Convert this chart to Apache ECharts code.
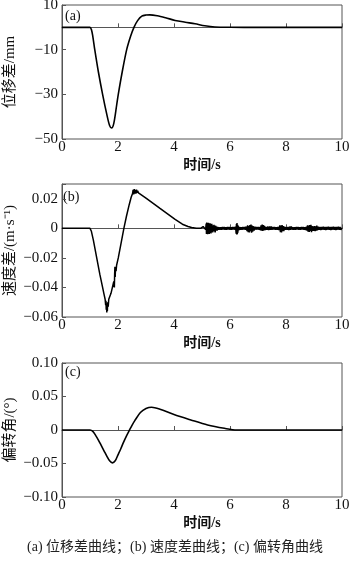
<!DOCTYPE html>
<html><head><meta charset="utf-8">
<script src="https://cdn.jsdelivr.net/npm/echarts@6/dist/echarts.min.js"></script>
<style>html,body{margin:0;padding:0;background:#fff}#c{width:350px;height:563px}</style>
</head><body><div id="c"></div>
<script>
// ---- data ----
const xTicks = [0, 2, 4, 6, 8, 10];
// (a) displacement difference, mm
const dispT = [0, 1.0, 1.05, 1.1, 1.17, 1.3, 1.45, 1.6, 1.7, 1.77, 1.85, 1.95, 2.01, 2.15, 2.31, 2.45, 2.57, 2.7, 2.85, 3.0, 3.14, 3.4, 3.7, 4.04, 4.4, 4.75, 5.1, 5.46, 6.0, 7.0, 10];
const dispV = [0, 0, -1, -4, -10, -20, -30, -39, -44, -45.1, -43, -35, -30, -20, -10, -4, 0, 3, 5, 5.5, 5.6, 5.2, 4.3, 3.1, 2.3, 1.6, 0.7, 0.15, 0.02, 0, 0];
// (b) velocity difference, m/s (main trend)
const velT = [0, 1.0, 1.05, 1.12, 1.24, 1.35, 1.45, 1.5, 1.54, 1.56, 1.57, 1.58, 1.59, 1.60, 1.61, 1.62, 1.63, 1.65, 1.67, 1.70, 1.75, 1.80, 1.85, 1.87, 1.88, 1.89, 1.90, 1.91, 1.93, 1.95, 2.01, 2.1, 2.21, 2.3, 2.4, 2.47, 2.52, 2.54, 2.56, 2.58, 2.60, 2.62, 2.64, 2.66, 2.68, 2.70, 2.73, 2.8, 3.0, 3.5, 4.04, 4.3, 4.5, 4.63, 4.8, 4.95];
const velV = [0, 0, -0.002, -0.008, -0.02, -0.031, -0.04, -0.0445, -0.048, -0.052, -0.049, -0.055, -0.051, -0.057, -0.052, -0.056, -0.050, -0.053, -0.048, -0.048, -0.044, -0.040, -0.036, -0.040, -0.031, -0.026, -0.033, -0.027, -0.029, -0.025, -0.020, -0.011, 0, 0.008, 0.016, 0.021, 0.0235, 0.026, 0.023, 0.0265, 0.0235, 0.026, 0.0235, 0.0262, 0.024, 0.0255, 0.024, 0.0235, 0.0205, 0.0135, 0.006, 0.0028, 0.0012, 0.0005, 0.0001, 0];
// (b) velocity difference, vibration after 5 s
const velNoise = [
[5.00,0],[5.04,0.0012],[5.07,0.0018],[5.10,0.0002],[5.13,-0.0008],[5.15,0.0032],[5.16,-0.0038],[5.17,0.0040],[5.18,-0.0032],[5.19,0.0036],
[5.20,-0.0040],[5.21,0.0030],[5.22,-0.0036],[5.23,0.0038],[5.24,-0.0028],[5.25,0.0034],[5.26,-0.0039],[5.27,0.0024],[5.28,-0.0032],[5.29,0.0035],
[5.30,-0.0030],[5.31,0.0028],[5.32,-0.0034],[5.33,0.0022],[5.34,-0.0026],[5.35,0.0030],[5.36,-0.0022],[5.37,0.0018],[5.38,-0.0028],[5.40,0.0020],
[5.41,-0.0018],[5.43,0.0024],[5.44,-0.0022],[5.46,0.0016],[5.47,-0.0028],[5.49,0.0018],[5.50,-0.0015],[5.52,0.0012],[5.54,-0.0016],[5.56,0.0010],
[5.58,-0.0009],[5.61,0.0008],[5.64,-0.0009],[5.67,0.0008],[5.70,-0.0010],[5.73,0.0009],[5.76,-0.0008],[5.79,0.0010],[5.82,-0.0009],[5.85,0.0008],
[5.88,-0.0010],[5.91,0.0009],[5.94,-0.0008],[5.97,0.0010],[6.00,-0.0009],[6.03,0.0008],[6.06,-0.0010],[6.09,0.0009],[6.12,-0.0008],[6.15,0.0010],
[6.18,-0.0009],[6.20,0.0012],[6.22,-0.0036],[6.23,0.0030],[6.24,-0.0042],[6.25,0.0036],[6.26,-0.0040],[6.27,0.0024],[6.28,-0.0030],[6.29,0.0016],
[6.31,-0.0014],[6.34,0.0009],[6.37,-0.0010],[6.40,0.0008],[6.43,-0.0009],[6.46,0.0010],[6.49,-0.0008],[6.52,0.0009],[6.55,-0.0010],[6.58,0.0012],
[6.61,-0.0018],[6.63,0.0020],[6.65,-0.0026],[6.67,0.0016],[6.69,-0.0028],[6.71,0.0022],[6.73,-0.0020],[6.75,0.0026],[6.77,-0.0030],[6.79,0.0018],
[6.81,-0.0022],[6.83,0.0014],[6.86,-0.0016],[6.89,0.0011],[6.92,-0.0009],[6.95,0.0010],[6.98,-0.0008],[7.01,0.0009],[7.04,-0.0010],[7.07,0.0009],
[7.09,-0.0013],[7.11,0.0020],[7.13,-0.0016],[7.15,0.0026],[7.17,-0.0018],[7.19,0.0022],[7.21,-0.0014],[7.23,0.0016],[7.26,-0.0011],[7.29,0.0009],
[7.32,-0.0010],[7.35,0.0012],[7.38,-0.0011],[7.41,0.0013],[7.44,-0.0010],[7.47,0.0012],[7.50,-0.0010],[7.53,0.0009],[7.56,-0.0008],[7.59,0.0010],
[7.62,-0.0009],[7.65,0.0008],[7.68,-0.0010],[7.71,0.0009],[7.74,-0.0011],[7.76,-0.0016],[7.78,0.0020],[7.80,-0.0026],[7.82,0.0018],[7.84,-0.0028],
[7.86,0.0022],[7.88,-0.0020],[7.90,0.0016],[7.92,-0.0018],[7.95,0.0011],[7.98,-0.0009],[8.01,0.0008],[8.04,-0.0010],[8.07,0.0009],[8.10,-0.0011],
[8.13,0.0012],[8.16,-0.0010],[8.19,0.0013],[8.22,-0.0009],[8.25,0.0008],[8.28,-0.0009],[8.31,0.0008],[8.34,-0.0010],[8.37,0.0009],[8.40,-0.0008],
[8.43,0.0010],[8.46,-0.0009],[8.49,0.0008],[8.52,-0.0010],[8.55,0.0009],[8.58,-0.0008],[8.61,0.0010],[8.64,-0.0009],[8.67,0.0008],[8.70,-0.0011],
[8.73,0.0012],[8.75,-0.0016],[8.77,0.0020],[8.79,-0.0022],[8.81,0.0018],[8.83,-0.0024],[8.85,0.0022],[8.87,-0.0018],[8.89,0.0024],[8.91,-0.0026],
[8.93,0.0016],[8.95,-0.0018],[8.97,0.0014],[9.00,-0.0018],[9.02,0.0016],[9.04,-0.0020],[9.06,0.0014],[9.08,-0.0016],[9.10,0.0018],[9.12,-0.0013],
[9.15,0.0011],[9.18,-0.0010],[9.21,0.0009],[9.24,-0.0011],[9.27,0.0010],[9.30,-0.0009],[9.33,0.0011],[9.36,-0.0010],[9.39,0.0009],[9.42,-0.0011],
[9.45,0.0010],[9.48,-0.0009],[9.51,0.0011],[9.54,-0.0010],[9.57,0.0009],[9.60,-0.0011],[9.63,0.0010],[9.66,-0.0009],[9.69,0.0011],[9.72,-0.0010],
[9.75,0.0009],[9.78,-0.0011],[9.81,0.0010],[9.84,-0.0009],[9.87,0.0011],[9.90,-0.0010],[9.93,0.0009],[9.96,-0.0010],[10.00,0.0004]
];
// (c) deflection angle, degrees
const angT = [0, 1.0, 1.1, 1.2, 1.3, 1.4, 1.5, 1.6, 1.7, 1.8, 1.9, 2.0, 2.1, 2.2, 2.3, 2.4, 2.5, 2.6, 2.8, 3.0, 3.2, 3.5, 4.0, 4.6, 5.2, 5.8, 6.24, 7, 10];
const angV = [0, 0, -0.002, -0.008, -0.015, -0.023, -0.031, -0.039, -0.046, -0.049, -0.046, -0.037, -0.028, -0.018, -0.009, -0.001, 0.007, 0.014, 0.026, 0.032, 0.034, 0.031, 0.023, 0.015, 0.0075, 0.0025, 0, 0, 0];

const yTicksA = [10, -10, -30, -50];
const yTicksB = [0.02, 0, -0.02, -0.04, -0.06];
const yTicksC = [0.10, 0.05, 0, -0.05, -0.10];
const panelLabels = ['(a)', '(b)', '(c)'];
const yNames = ['位移差/mm', '速度差/(m·s⁻¹)', '偏转角/(°)'];
const xName = '时间/s';
const caption = '(a) 位移差曲线；(b) 速度差曲线；(c) 偏转角曲线';

// ---- chart ----
const SERIF = '"Liberation Serif","Noto Sans CJK SC",serif';
const minus = s => String(s).replace('-', '\u2212');
const fmtA = v => yTicksA.some(t => Math.abs(t - v) < 1e-6) ? minus(v) : '';
const fmtB = v => {
  const t = yTicksB.find(t => Math.abs(t - v) < 1e-6);
  return t === undefined ? '' : (t === 0 ? '0' : minus(t.toFixed(2)));
};
const fmtC = v => {
  const t = yTicksC.find(t => Math.abs(t - v) < 1e-6);
  return t === undefined ? '' : (t === 0 ? '0' : minus(t.toFixed(2)));
};
const grids = [
  {left: 62, top: 5, width: 280, height: 134},
  {left: 62, top: 184, width: 280, height: 133},
  {left: 62, top: 363, width: 280, height: 134}
].map(g => Object.assign(g, {show: true, borderColor: '#555', borderWidth: 1, containLabel: false, outerBoundsMode: 'none'}));

const axisCommon = {
  axisLine: {show: true, lineStyle: {color: '#555', width: 1}},
  axisTick: {show: true, inside: true, length: 4, lineStyle: {color: '#555'}},
  splitLine: {show: false},
  axisLabel: {color: '#111', fontFamily: SERIF, fontSize: 15}
};
const xAxes = [0, 1, 2].map(i => Object.assign({}, axisCommon, {
  type: 'value', gridIndex: i, min: 0, max: 10, interval: 2,
  axisLabel: Object.assign({}, axisCommon.axisLabel, {margin: 1}),
  name: xName, nameLocation: 'middle', nameGap: 19, nameMoveOverlap: false,
  nameTextStyle: {color: '#111', fontFamily: SERIF, fontSize: 14, fontWeight: 'bold'}
}));
const yNameStyle = {color: '#111', fontFamily: SERIF, fontSize: 15};
const yAxes = [
  {min: -50, max: 10, interval: 20, fmt: fmtA},
  {min: -0.06, max: 0.03, interval: 0.02, fmt: fmtB},
  {min: -0.1, max: 0.1, interval: 0.05, fmt: fmtC}
].map((a, i) => Object.assign({}, axisCommon, {
  type: 'value', gridIndex: i, min: a.min, max: a.max, interval: a.interval,
  axisLabel: Object.assign({}, axisCommon.axisLabel, {margin: 4, formatter: a.fmt}),
  name: yNames[i], nameLocation: 'middle', nameRotate: 90, nameGap: 44, nameMoveOverlap: false,
  nameTextStyle: yNameStyle
}));

const lineStyle = {color: '#000', width: 1.6};
const series = [
  {type: 'line', xAxisIndex: 0, yAxisIndex: 0, showSymbol: false, smooth: 0.3,
   lineStyle, data: dispT.map((t, i) => [t, dispV[i]])},
  {type: 'line', xAxisIndex: 1, yAxisIndex: 1, showSymbol: false, smooth: false,
   lineStyle: {color: '#000', width: 1.5}, data: velT.map((t, i) => [t, velV[i]]).concat(velNoise)},
  {type: 'line', xAxisIndex: 2, yAxisIndex: 2, showSymbol: false, smooth: 0.3,
   lineStyle, data: angT.map((t, i) => [t, angV[i]])}
];

const labelPos = [[65, 9], [63, 190], [65, 365]];
const graphic = panelLabels.map((s, i) => ({
  type: 'text', left: labelPos[i][0], top: labelPos[i][1],
  style: {text: s, font: '14px ' + SERIF, fill: '#111'}
})).concat([{
  type: 'text', left: 'center', top: 540,
  style: {text: caption, font: '14px ' + SERIF, fill: '#222'}
}]);

const chart = echarts.init(document.getElementById('c'), null, {renderer: 'canvas'});
chart.setOption({
  animation: false, backgroundColor: '#fff',
  grid: grids, xAxis: xAxes, yAxis: yAxes, series, graphic
});
</script></body></html>
